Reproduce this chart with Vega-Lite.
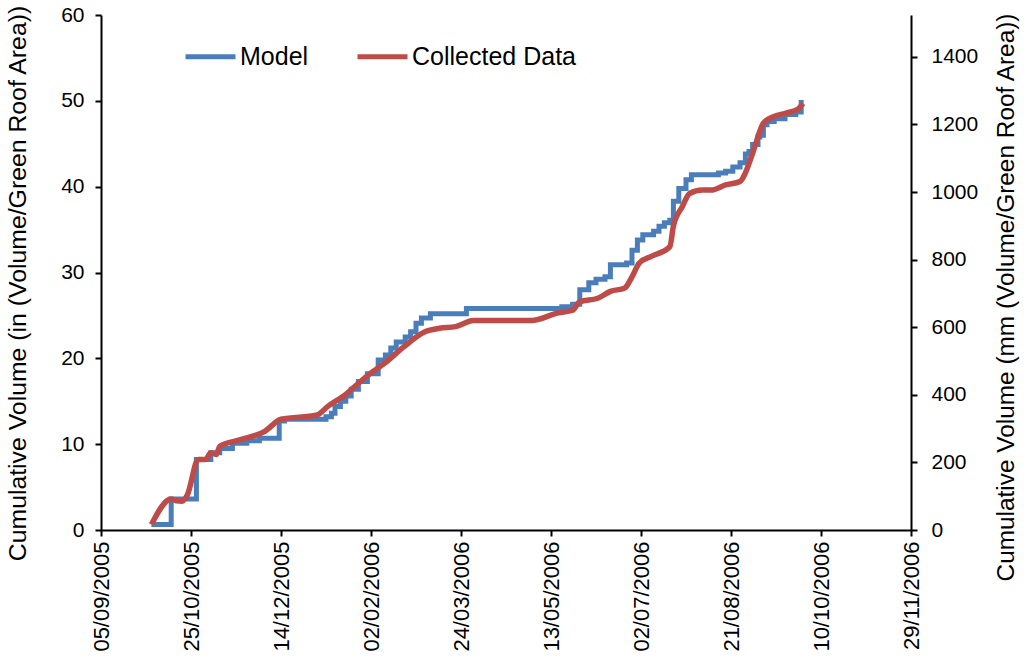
{
  "$schema": "https://vega.github.io/schema/vega-lite/v6.json",
  "width": 810,
  "height": 515,
  "autosize": {"type": "none"},
  "padding": {"left": 101, "top": 15, "right": 113, "bottom": 129},
  "config": {
    "view": {"stroke": null},
    "font": "Liberation Sans"
  },
  "data": {"values": [
    {"date": "2005-10-03", "series": "Model", "value": 0.64},
    {"date": "2005-10-14", "series": "Model", "value": 3.6},
    {"date": "2005-10-28", "series": "Model", "value": 8.2},
    {"date": "2005-11-05", "series": "Model", "value": 9.0},
    {"date": "2005-11-10", "series": "Model", "value": 9.5},
    {"date": "2005-11-17", "series": "Model", "value": 10.1},
    {"date": "2005-11-25", "series": "Model", "value": 10.4},
    {"date": "2005-12-02", "series": "Model", "value": 10.7},
    {"date": "2005-12-13", "series": "Model", "value": 12.7},
    {"date": "2005-12-16", "series": "Model", "value": 12.9},
    {"date": "2006-01-08", "series": "Model", "value": 13.2},
    {"date": "2006-01-11", "series": "Model", "value": 13.6},
    {"date": "2006-01-13", "series": "Model", "value": 14.4},
    {"date": "2006-01-16", "series": "Model", "value": 15.0},
    {"date": "2006-01-19", "series": "Model", "value": 15.6},
    {"date": "2006-01-22", "series": "Model", "value": 16.4},
    {"date": "2006-01-26", "series": "Model", "value": 17.3},
    {"date": "2006-01-31", "series": "Model", "value": 18.2},
    {"date": "2006-02-06", "series": "Model", "value": 19.8},
    {"date": "2006-02-10", "series": "Model", "value": 20.4},
    {"date": "2006-02-13", "series": "Model", "value": 21.2},
    {"date": "2006-02-16", "series": "Model", "value": 21.9},
    {"date": "2006-02-21", "series": "Model", "value": 22.5},
    {"date": "2006-02-24", "series": "Model", "value": 23.1},
    {"date": "2006-02-27", "series": "Model", "value": 24.1},
    {"date": "2006-03-02", "series": "Model", "value": 24.7},
    {"date": "2006-03-07", "series": "Model", "value": 25.2},
    {"date": "2006-03-27", "series": "Model", "value": 25.8},
    {"date": "2006-05-19", "series": "Model", "value": 26.0},
    {"date": "2006-05-25", "series": "Model", "value": 26.3},
    {"date": "2006-05-29", "series": "Model", "value": 28.0},
    {"date": "2006-06-03", "series": "Model", "value": 28.8},
    {"date": "2006-06-07", "series": "Model", "value": 29.2},
    {"date": "2006-06-12", "series": "Model", "value": 29.5},
    {"date": "2006-06-15", "series": "Model", "value": 30.9},
    {"date": "2006-06-24", "series": "Model", "value": 31.1},
    {"date": "2006-06-27", "series": "Model", "value": 32.6},
    {"date": "2006-06-30", "series": "Model", "value": 33.8},
    {"date": "2006-07-03", "series": "Model", "value": 34.4},
    {"date": "2006-07-09", "series": "Model", "value": 34.8},
    {"date": "2006-07-12", "series": "Model", "value": 35.4},
    {"date": "2006-07-15", "series": "Model", "value": 35.8},
    {"date": "2006-07-18", "series": "Model", "value": 36.1},
    {"date": "2006-07-20", "series": "Model", "value": 38.3},
    {"date": "2006-07-23", "series": "Model", "value": 39.8},
    {"date": "2006-07-27", "series": "Model", "value": 40.8},
    {"date": "2006-07-30", "series": "Model", "value": 41.4},
    {"date": "2006-08-14", "series": "Model", "value": 41.6},
    {"date": "2006-08-18", "series": "Model", "value": 41.8},
    {"date": "2006-08-22", "series": "Model", "value": 42.3},
    {"date": "2006-08-26", "series": "Model", "value": 42.8},
    {"date": "2006-08-29", "series": "Model", "value": 43.8},
    {"date": "2006-08-31", "series": "Model", "value": 44.1},
    {"date": "2006-09-02", "series": "Model", "value": 44.9},
    {"date": "2006-09-05", "series": "Model", "value": 45.8},
    {"date": "2006-09-06", "series": "Model", "value": 46.0},
    {"date": "2006-09-08", "series": "Model", "value": 47.2},
    {"date": "2006-09-10", "series": "Model", "value": 47.6},
    {"date": "2006-09-14", "series": "Model", "value": 47.9},
    {"date": "2006-09-20", "series": "Model", "value": 48.4},
    {"date": "2006-09-26", "series": "Model", "value": 48.7},
    {"date": "2006-09-29", "series": "Model", "value": 50.1},
    {"date": "2005-10-03", "series": "Collected Data", "value": 0.64},
    {"date": "2005-10-14", "series": "Collected Data", "value": 3.6},
    {"date": "2005-10-17", "series": "Collected Data", "value": 3.4},
    {"date": "2005-10-20", "series": "Collected Data", "value": 3.35},
    {"date": "2005-10-23", "series": "Collected Data", "value": 4.1},
    {"date": "2005-10-29", "series": "Collected Data", "value": 8.2},
    {"date": "2005-11-02", "series": "Collected Data", "value": 8.2},
    {"date": "2005-11-05", "series": "Collected Data", "value": 9.0},
    {"date": "2005-11-08", "series": "Collected Data", "value": 8.8},
    {"date": "2005-11-10", "series": "Collected Data", "value": 9.75},
    {"date": "2005-11-21", "series": "Collected Data", "value": 10.5},
    {"date": "2005-12-05", "series": "Collected Data", "value": 11.5},
    {"date": "2005-12-14", "series": "Collected Data", "value": 12.9},
    {"date": "2006-01-03", "series": "Collected Data", "value": 13.4},
    {"date": "2006-01-09", "series": "Collected Data", "value": 14.4},
    {"date": "2006-01-19", "series": "Collected Data", "value": 15.8},
    {"date": "2006-01-26", "series": "Collected Data", "value": 17.1},
    {"date": "2006-02-02", "series": "Collected Data", "value": 18.3},
    {"date": "2006-02-10", "series": "Collected Data", "value": 19.5},
    {"date": "2006-02-20", "series": "Collected Data", "value": 21.3},
    {"date": "2006-03-04", "series": "Collected Data", "value": 23.1},
    {"date": "2006-03-12", "series": "Collected Data", "value": 23.5},
    {"date": "2006-03-21", "series": "Collected Data", "value": 23.7},
    {"date": "2006-03-31", "series": "Collected Data", "value": 24.4},
    {"date": "2006-05-02", "series": "Collected Data", "value": 24.4},
    {"date": "2006-05-17", "series": "Collected Data", "value": 25.3},
    {"date": "2006-05-25", "series": "Collected Data", "value": 25.6},
    {"date": "2006-05-29", "series": "Collected Data", "value": 26.6},
    {"date": "2006-06-08", "series": "Collected Data", "value": 27.0},
    {"date": "2006-06-15", "series": "Collected Data", "value": 27.8},
    {"date": "2006-06-23", "series": "Collected Data", "value": 28.2},
    {"date": "2006-06-27", "series": "Collected Data", "value": 29.5},
    {"date": "2006-07-01", "series": "Collected Data", "value": 31.1},
    {"date": "2006-07-08", "series": "Collected Data", "value": 31.9},
    {"date": "2006-07-18", "series": "Collected Data", "value": 33.0},
    {"date": "2006-07-20", "series": "Collected Data", "value": 35.4},
    {"date": "2006-07-25", "series": "Collected Data", "value": 37.7},
    {"date": "2006-07-29", "series": "Collected Data", "value": 39.2},
    {"date": "2006-08-05", "series": "Collected Data", "value": 39.6},
    {"date": "2006-08-10", "series": "Collected Data", "value": 39.6},
    {"date": "2006-08-18", "series": "Collected Data", "value": 40.2},
    {"date": "2006-08-26", "series": "Collected Data", "value": 40.6},
    {"date": "2006-08-29", "series": "Collected Data", "value": 41.6},
    {"date": "2006-09-02", "series": "Collected Data", "value": 43.9},
    {"date": "2006-09-08", "series": "Collected Data", "value": 47.4},
    {"date": "2006-09-11", "series": "Collected Data", "value": 47.9},
    {"date": "2006-09-21", "series": "Collected Data", "value": 48.6},
    {"date": "2006-09-27", "series": "Collected Data", "value": 49.0},
    {"date": "2006-09-30", "series": "Collected Data", "value": 49.7}
  ]},
  "layer": [
    {
      "encoding": {
        "x": {
          "field": "date", "type": "temporal",
          "scale": {"type": "utc", "domain": [
            {"year": 2005, "month": 9, "date": 5, "utc": true},
            {"year": 2006, "month": 11, "date": 29, "utc": true}
          ]},
          "axis": {
            "title": null, "labelExpr": "utcFormat(datum.value, '%d/%m/%Y')", "labelAngle": 270,
            "labelFontSize": 22, "labelColor": "black", "labelPadding": 5,
            "domainColor": "black", "domainWidth": 2, "tickColor": "black", "tickWidth": 2, "tickSize": 6, "grid": false,
            "values": [
              {"year": 2005, "month": 9, "date": 5, "utc": true},
              {"year": 2005, "month": 10, "date": 25, "utc": true},
              {"year": 2005, "month": 12, "date": 14, "utc": true},
              {"year": 2006, "month": 2, "date": 2, "utc": true},
              {"year": 2006, "month": 3, "date": 24, "utc": true},
              {"year": 2006, "month": 5, "date": 13, "utc": true},
              {"year": 2006, "month": 7, "date": 2, "utc": true},
              {"year": 2006, "month": 8, "date": 21, "utc": true},
              {"year": 2006, "month": 10, "date": 10, "utc": true},
              {"year": 2006, "month": 11, "date": 29, "utc": true}
            ]
          }
        },
        "y": {
          "field": "value", "type": "quantitative",
          "scale": {"domain": [0, 60], "nice": false},
          "axis": {
            "title": "Cumulative Volume (in (Volume/Green Roof Area))", "values": [0, 10, 20, 30, 40, 50, 60],
            "labelFontSize": 21, "labelColor": "black", "labelPadding": 11,
            "titleFontSize": 24.8, "titleFontWeight": "normal", "titleColor": "black",
            "titleAngle": 270, "titleBaseline": "top", "titleAlign": "center", "titleX": -96, "titleY": 268,
            "domainColor": "black", "domainWidth": 2, "tickColor": "black", "tickWidth": 2, "tickSize": 6, "grid": false
          }
        },
        "color": {
          "field": "series", "type": "nominal",
          "scale": {"domain": ["Model", "Collected Data"], "range": ["#4A7EBB", "#BE4B48"]},
          "legend": {
            "title": null, "orient": "none", "legendX": 82, "legendY": 14, "direction": "horizontal",
            "symbolType": "stroke", "symbolSize": 2500, "symbolStrokeWidth": 5,
            "labelFontSize": 25, "labelColor": "black", "labelOffset": 2, "columnPadding": 38, "labelLimit": 400
          }
        }
      },
      "layer": [
        {
          "transform": [{"filter": {"field": "series", "equal": "Model"}}],
          "mark": {"type": "line", "interpolate": "step-after", "strokeWidth": 5}
        },
        {
          "transform": [{"filter": {"field": "series", "equal": "Collected Data"}}],
          "mark": {"type": "line", "interpolate": "monotone", "strokeWidth": 5.5}
        }
      ]
    },
    {
      "data": {"values": [{"mm": 0}]},
      "mark": {"type": "rule", "opacity": 0},
      "encoding": {
        "y": {
          "field": "mm", "type": "quantitative",
          "scale": {"domain": [0, 1524], "nice": false},
          "axis": {
            "orient": "right", "title": "Cumulative Volume (mm (Volume/Green Roof Area))",
            "values": [0, 200, 400, 600, 800, 1000, 1200, 1400], "format": "d",
            "labelFontSize": 21, "labelColor": "black", "labelPadding": 14,
            "titleFontSize": 24.4, "titleFontWeight": "normal", "titleColor": "black",
            "titleAngle": 270, "titleBaseline": "top", "titleAlign": "center", "titleX": 83, "titleY": 282,
            "domainColor": "black", "domainWidth": 2, "tickColor": "black", "tickWidth": 2, "tickSize": 6, "grid": false
          }
        }
      }
    }
  ],
  "resolve": {"scale": {"y": "independent"}}
}
